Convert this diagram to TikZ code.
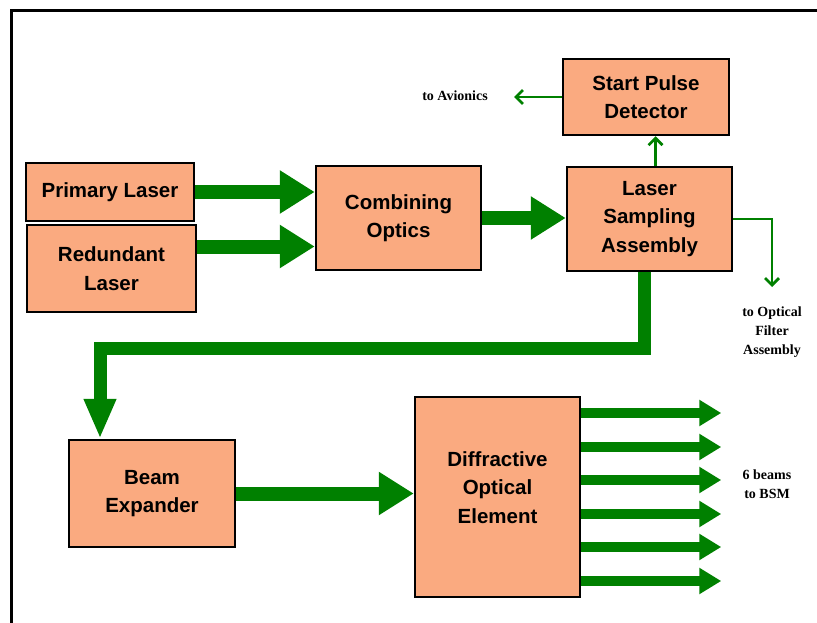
\documentclass[tikz,border=0pt]{standalone}
\usepackage{fontspec}
\setmainfont{Liberation Serif}
\newfontfamily\boxfont{Liberation Sans}
\usetikzlibrary{arrows.meta,calc}
\definecolor{boxfill}{RGB}{250,170,128}
\definecolor{beamgreen}{RGB}{0,128,0}
\tikzset{
  blockbox/.style={draw=black, line width=2.5pt, fill=boxfill, align=center,
    font=\boxfont\bfseries\fontsize{20.5}{28.5}\selectfont, inner sep=0pt},
  bigarrow/.style={draw=beamgreen, line width=14pt, line join=miter,
    -{Triangle[width=41pt,length=35pt]}},
  midarrow/.style={draw=beamgreen, line width=13pt, line join=miter,
    -{Triangle[width=30pt,length=40pt]}},
  beamarrow/.style={draw=beamgreen, line width=10pt,
    -{Triangle[width=25pt,length=22pt]}},
  thinarrow/.style={draw=beamgreen, line width=2.8pt,
    -{Straight Barb[width=14pt,length=7pt]}},
  sidelabel/.style={align=center, font=\bfseries\fontsize{14}{19}\selectfont, inner sep=0pt}
}
\begin{document}
\begin{tikzpicture}[x=1pt,y=-1pt]
\useasboundingbox (0,0) rectangle (817,623);
\draw[line width=3pt] (11,630) -- (11,11) -- (830,11);

\node[blockbox, minimum width=166pt, minimum height=76pt] (spd) at (646,97) {Start Pulse\\Detector};
\node[blockbox, minimum width=168pt, minimum height=58pt] (pl) at (110,192) {Primary Laser};
\node[blockbox, minimum width=169pt, minimum height=87pt] (rl) at (111.5,268.5) {Redundant\\Laser};
\node[blockbox, minimum width=165pt, minimum height=104pt] (co) at (398.5,218) {Combining\\Optics};
\node[blockbox, minimum width=165pt, minimum height=104pt] (lsa) at (649.5,219) {Laser\\Sampling\\Assembly};
\node[blockbox, minimum width=166pt, minimum height=107pt] (be) at (152,493.5) {Beam\\Expander};
\node[blockbox, minimum width=165pt, minimum height=200pt] (doe) at (497.5,497)
  {\raisebox{3pt}[45pt][45pt]{\begin{tabular}{@{}c@{}}Diffractive\\Optical\\Element\end{tabular}}};

\node[sidelabel] (av) at (455,96) {to Avionics};
\node[sidelabel] (ofl) at (772,332) {to Optical\\Filter\\Assembly};
\node[sidelabel] (bsm) at (767,484) {6 beams\\to BSM};
\coordinate (avend) at (514,97);
\coordinate (ofend) at (772,287);

\draw[bigarrow] (pl.east) -- (pl.east -| co.west);
\draw[bigarrow] ([yshift=22pt]rl.east) -- ([yshift=22pt]rl.east -| co.west);
\draw[bigarrow] (co.east) -- (co.east -| lsa.west);
\draw[thinarrow] ([xshift=6pt]lsa.north) -- ([xshift=6pt]lsa.north |- spd.south);
\draw[thinarrow] (spd.west) -- (avend);
\draw[thinarrow] (lsa.east) -| (ofend);
\draw[midarrow] ([xshift=-5.5pt]lsa.south) -- ++(0,76) -| ([xshift=-52pt]be.north);
\draw[bigarrow] (be.east) -- (be.east -| doe.west);
\foreach \dy in {-84,-50,-17,17,50,84}
  \draw[beamarrow] ([yshift=-\dy pt]doe.east) -- ++(140,0);
\end{tikzpicture}
\end{document}
